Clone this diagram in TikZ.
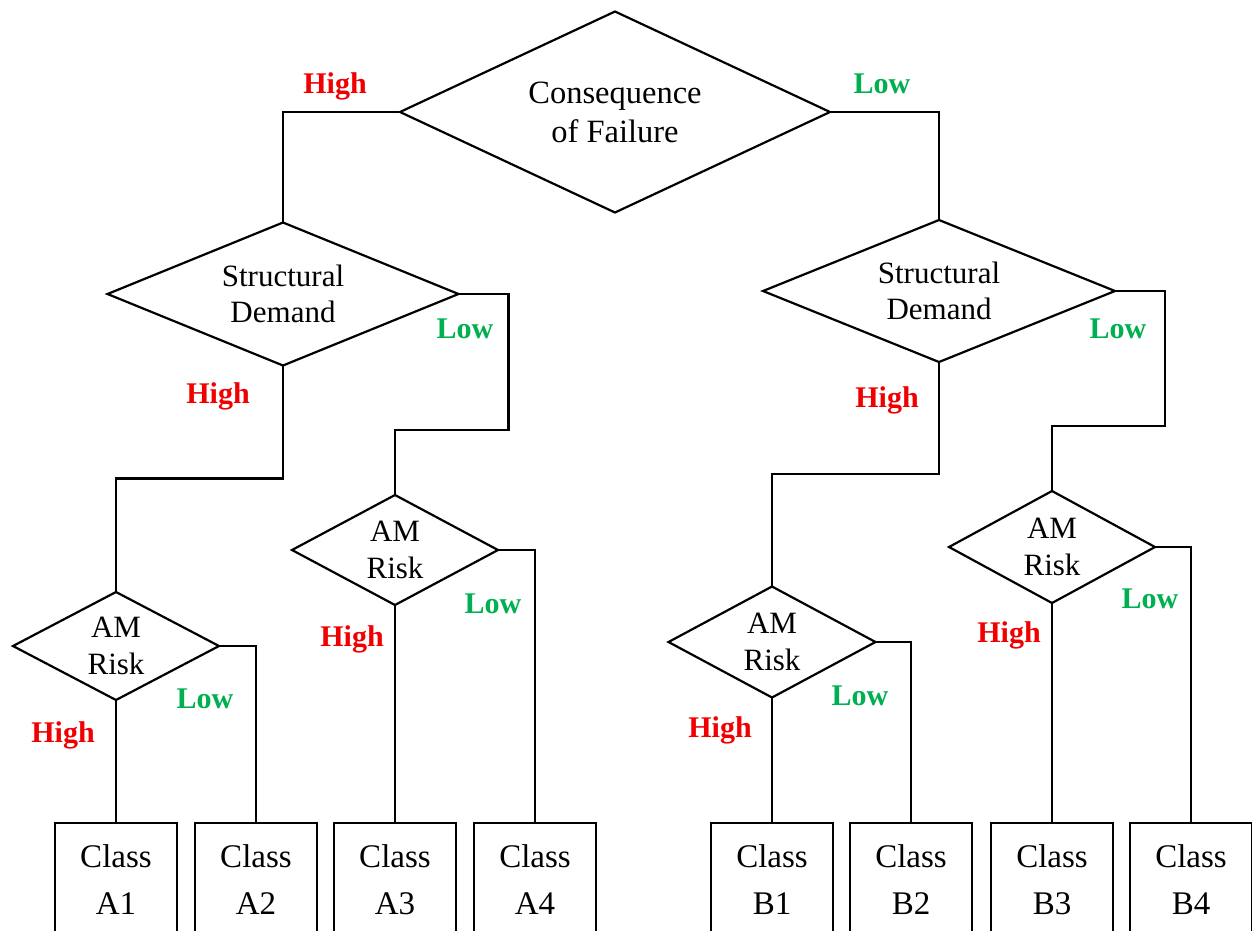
\documentclass[tikz,border=0pt]{standalone}
\usepackage{fontspec}
\setmainfont{Liberation Serif}
\usetikzlibrary{shapes.geometric}
\definecolor{hired}{RGB}{240,0,0}
\definecolor{logreen}{RGB}{0,176,80}
\begin{document}
\begin{tikzpicture}[x=1pt,y=-1pt,line width=2.2pt,
  dec/.style={diamond,draw,aspect=2,inner sep=0pt,outer sep=0pt,align=center,font=\fontsize{31}{38}\selectfont},
  cls/.style={rectangle,draw,minimum width=122pt,minimum height=114pt,inner sep=0pt,outer sep=0pt,align=center,font=\fontsize{33}{47}\selectfont},
  hi/.style={anchor=base,text=hired,font=\bfseries\fontsize{30}{36}\selectfont},
  lo/.style={anchor=base,text=logreen,font=\bfseries\fontsize{30}{36}\selectfont}]
\useasboundingbox (0,0) rectangle (1252,930);
% decisions
\node[dec,minimum width=430pt,minimum height=201pt,font=\fontsize{32.5}{39}\selectfont] (cf) at (615,112) {Consequence\\of Failure};
\node[dec,minimum width=351pt,minimum height=143pt,font=\fontsize{31}{36}\selectfont] (sdL) at (283,294) {Structural\\Demand};
\node[dec,minimum width=352pt,minimum height=142pt,font=\fontsize{31}{36}\selectfont] (sdR) at (939,291) {Structural\\Demand};
\node[dec,minimum width=206pt,minimum height=108pt,font=\fontsize{31}{37}\selectfont] (am1) at (116,646) {AM\\Risk};
\node[dec,minimum width=206pt,minimum height=110pt,font=\fontsize{31}{37}\selectfont] (am2) at (395,550) {AM\\Risk};
\node[dec,minimum width=207pt,minimum height=111pt,font=\fontsize{31}{37}\selectfont] (am3) at (772,642) {AM\\Risk};
\node[dec,minimum width=206pt,minimum height=112pt,font=\fontsize{31}{37}\selectfont] (am4) at (1052,547) {AM\\Risk};
% classes
\node[cls] (a1) at (116,880) {Class\\A1};
\node[cls] (a2) at (256,880) {Class\\A2};
\node[cls] (a3) at (395,880) {Class\\A3};
\node[cls] (a4) at (535,880) {Class\\A4};
\node[cls] (b1) at (772,880) {Class\\B1};
\node[cls] (b2) at (911,880) {Class\\B2};
\node[cls] (b3) at (1052,880) {Class\\B3};
\node[cls] (b4) at (1191,880) {Class\\B4};
% connectors
\draw (cf.west) -| (sdL.north);
\draw (cf.east) -| (sdR.north);
\draw (sdL.south) -- ++(0,113) -| (am1.north);
\draw (sdL.east) -- ++(50,0) -- ++(0,136) -| (am2.north);
\draw (sdR.south) -- ++(0,112) -| (am3.north);
\draw (sdR.east) -- ++(50,0) -- ++(0,135) -| (am4.north);
\draw (am1.south) -- (a1.north);
\draw (am1.east) -| (a2.north);
\draw (am2.south) -- (a3.north);
\draw (am2.east) -| (a4.north);
\draw (am3.south) -- (b1.north);
\draw (am3.east) -| (b2.north);
\draw (am4.south) -- (b3.north);
\draw (am4.east) -| (b4.north);
% labels
\node[hi] (h0) at (335,93) {High};
\node[lo] (l0) at (882,93) {Low};
\node[hi] (h1) at (218,403) {High};
\node[lo] (l1) at (465,338) {Low};
\node[hi] (h2) at (887,407) {High};
\node[lo] (l2) at (1118,338) {Low};
\node[hi] (h3) at (63,742) {High};
\node[lo] (l3) at (205,708) {Low};
\node[hi] (h4) at (352,646) {High};
\node[lo] (l4) at (493,613) {Low};
\node[hi] (h5) at (720,737) {High};
\node[lo] (l5) at (860,705) {Low};
\node[hi] (h6) at (1009,642) {High};
\node[lo] (l6) at (1150,608) {Low};
\end{tikzpicture}
\end{document}
